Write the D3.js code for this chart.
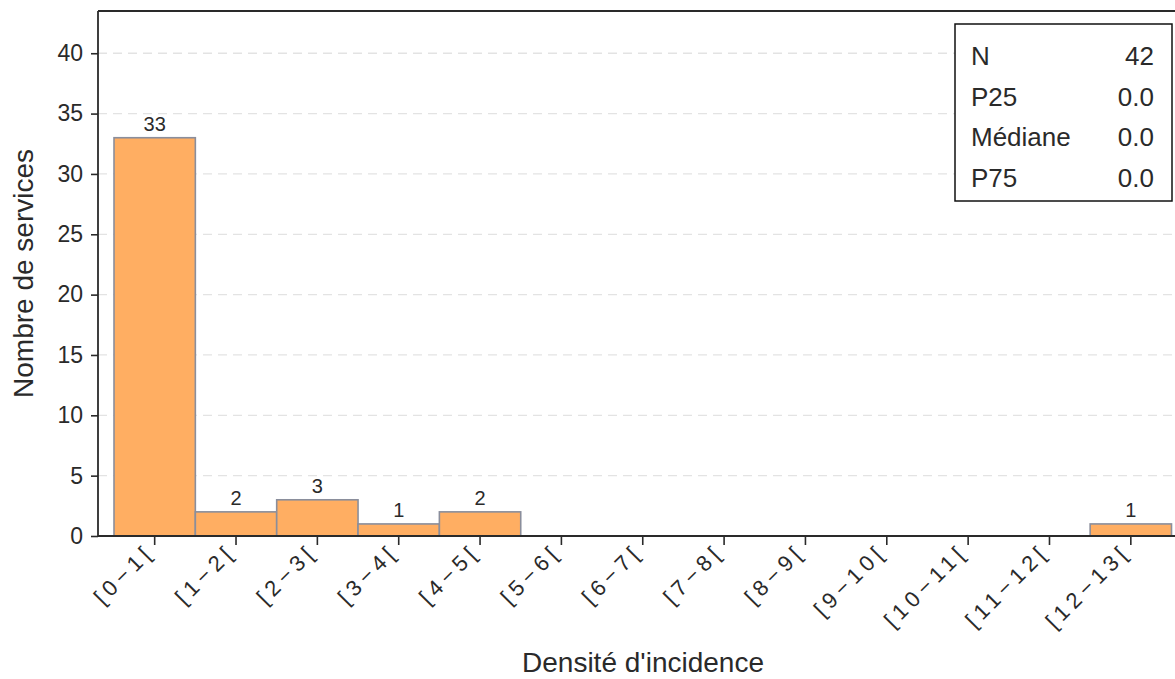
<!DOCTYPE html>
<html>
<head>
<meta charset="utf-8">
<script src="https://cdn.jsdelivr.net/npm/d3@7/dist/d3.min.js"></script>
<style>
  html, body { margin: 0; padding: 0; background: #fff; }
  svg { display: block; font-family: "Liberation Sans", Arial, sans-serif; }
</style>
</head>
<body>
<svg id="chart" width="1175" height="679"></svg>
<script>
const categories = ["[0\u22121[", "[1\u22122[", "[2\u22123[", "[3\u22124[", "[4\u22125[", "[5\u22126[", "[6\u22127[", "[7\u22128[", "[8\u22129[", "[9\u221210[", "[10\u221211[", "[11\u221212[", "[12\u221213["];
const counts = [33, 2, 3, 1, 2, 0, 0, 0, 0, 0, 0, 0, 1];
const yTicks = [0, 5, 10, 15, 20, 25, 30, 35, 40];
const statLabels = ["N", "P25", "M\u00e9diane", "P75"];
const statValues = ["42", "0.0", "0.0", "0.0"];

const svg = d3.select("#chart");
const pLeft = 98, pRight = 1187, pTop = 11, pBottom = 536;
const ink = "#2a2a2a";

const x = d3.scaleBand().domain(categories).range([114, 1171.5]).padding(0);
const y = d3.scaleLinear().domain([0, 43.5]).range([pBottom, pTop]);

// gridlines
svg.append("g").selectAll("line").data(yTicks.filter(d => d > 0)).join("line")
  .attr("x1", pLeft).attr("x2", pRight)
  .attr("y1", d => y(d)).attr("y2", d => y(d))
  .attr("stroke", "#e3e3e3").attr("stroke-width", 1.3)
  .attr("stroke-dasharray", "9,6");

// bars
const data = categories.map((c, i) => ({c, v: counts[i]}));
svg.append("g").selectAll("rect").data(data.filter(d => d.v > 0)).join("rect")
  .attr("x", d => x(d.c)).attr("width", x.bandwidth())
  .attr("y", d => y(d.v)).attr("height", d => y(0) - y(d.v))
  .attr("fill", "#FFAE62").attr("stroke", "#8a8e9c").attr("stroke-width", 1.6);

// bar labels
svg.append("g").selectAll("text").data(data.filter(d => d.v > 0)).join("text")
  .attr("x", d => x(d.c) + x.bandwidth() / 2)
  .attr("y", d => y(d.v) - 7)
  .attr("text-anchor", "middle")
  .attr("font-size", 20).attr("fill", ink)
  .text(d => d.v);

// y axis
const yAxis = d3.axisLeft(y).tickValues(yTicks).tickSize(7).tickPadding(8).tickFormat(d3.format("d"));
const gy = svg.append("g").attr("transform", `translate(${pLeft},0)`).call(yAxis);
gy.select(".domain").remove();
gy.selectAll(".tick line").attr("stroke", ink).attr("stroke-width", 1.6);
gy.selectAll(".tick text").attr("font-size", 23).attr("fill", ink).attr("font-family", "Liberation Sans, Arial, sans-serif");

// x axis
const xAxis = d3.axisBottom(x).tickSize(9).tickPadding(4);
const gx = svg.append("g").attr("transform", `translate(0,${pBottom})`).call(xAxis);
gx.select(".domain").remove();
gx.selectAll(".tick line").attr("stroke", ink).attr("stroke-width", 1.6);
gx.selectAll(".tick text")
  .attr("font-size", 22).attr("fill", ink)
  .attr("font-family", "Liberation Sans, Arial, sans-serif")
  .attr("letter-spacing", "5px")
  .attr("text-anchor", "end")
  .attr("x", 0).attr("y", 0).attr("dy", "0")
  .attr("transform", "translate(1,17) rotate(-45)");

// frame lines
svg.append("line").attr("x1", pLeft).attr("x2", pRight).attr("y1", pBottom).attr("y2", pBottom)
  .attr("stroke", ink).attr("stroke-width", 1.8);
svg.append("line").attr("x1", pLeft).attr("x2", pLeft).attr("y1", pTop).attr("y2", pBottom)
  .attr("stroke", ink).attr("stroke-width", 1.8);
svg.append("line").attr("x1", pLeft).attr("x2", pRight).attr("y1", pTop).attr("y2", pTop)
  .attr("stroke", ink).attr("stroke-width", 1.8);

// stats box
const box = svg.append("g");
box.append("rect").attr("x", 955).attr("y", 24).attr("width", 217).attr("height", 177)
  .attr("fill", "#fff").attr("stroke", "#111").attr("stroke-width", 1.5);
const rowY = d3.scalePoint().domain(statLabels).range([65, 187]);
box.selectAll("text.lab").data(statLabels).join("text").attr("class", "lab")
  .attr("x", 971).attr("y", d => rowY(d))
  .attr("font-size", 26).attr("fill", ink).text(d => d);
box.selectAll("text.val").data(statLabels).join("text").attr("class", "val")
  .attr("x", 1154).attr("y", d => rowY(d)).attr("text-anchor", "end")
  .attr("font-size", 26).attr("fill", ink).text((d, i) => statValues[i]);

// axis titles
svg.append("text").attr("x", 643).attr("y", 672).attr("text-anchor", "middle")
  .attr("font-size", 28).attr("fill", ink).text("Densit\u00e9 d'incidence");
svg.append("text").attr("transform", `translate(33,${(pTop + pBottom) / 2}) rotate(-90)`)
  .attr("text-anchor", "middle").attr("font-size", 28).attr("fill", ink)
  .text("Nombre de services");
</script>
</body>
</html>
